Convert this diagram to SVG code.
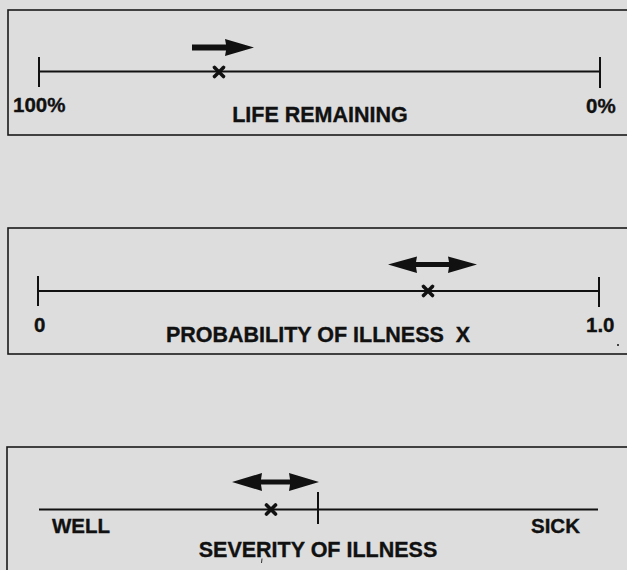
<svg xmlns="http://www.w3.org/2000/svg" width="627" height="570" viewBox="0 0 627 570">
<style>
.bg{fill:#dddddd}
.box{fill:none;stroke:#1a1a1a;stroke-width:1.6}
.axis{stroke:#111;stroke-width:2;fill:none}
.tick{stroke:#111;stroke-width:2;fill:none}
.xm{stroke:#111;stroke-width:3.6;stroke-linecap:round}
.arr{fill:#111}
text{font-family:"Liberation Sans",Arial,sans-serif;font-weight:bold;fill:#111;stroke:#111;stroke-width:0.35}
.lbl{font-size:20.5px}
.ttl{font-size:21.5px;text-anchor:middle}
</style>
<rect class="bg" x="0" y="0" width="627" height="570"/>

<g id="panel-life">
  <rect class="box" x="8" y="10" width="640" height="125"/>
  <line class="axis" x1="39" y1="71.5" x2="600" y2="71.5"/>
  <line class="tick" x1="39" y1="57" x2="39" y2="87"/>
  <line class="tick" x1="600" y1="57" x2="600" y2="88"/>
  <g transform="translate(219,72)"><line class="xm" x1="-4.5" y1="-4.5" x2="4.5" y2="4.5"/><line class="xm" x1="-4.5" y1="4.5" x2="4.5" y2="-4.5"/></g>
  <text class="lbl" x="13" y="112">100%</text>
  <text class="lbl" x="586" y="113">0%</text>
  <text class="ttl" x="320" y="122">LIFE REMAINING</text>
</g>

<g id="panel-probability">
  <rect class="box" x="8" y="228" width="640" height="126"/>
  <line class="axis" x1="38" y1="291" x2="599" y2="291"/>
  <line class="tick" x1="38" y1="276" x2="38" y2="306"/>
  <line class="tick" x1="599" y1="277" x2="599" y2="307"/>
  <g transform="translate(428,291)"><line class="xm" x1="-4.5" y1="-4.5" x2="4.5" y2="4.5"/><line class="xm" x1="-4.5" y1="4.5" x2="4.5" y2="-4.5"/></g>
  <text class="lbl" x="34" y="332">0</text>
  <text class="lbl" x="586" y="332">1.0</text>
  <text class="ttl" x="318" y="342" xml:space="preserve">PROBABILITY OF ILLNESS  X</text>
  <circle cx="618" cy="345" r="1" fill="#111"/>
</g>

<g id="panel-severity">
  <rect class="box" x="7" y="447" width="640" height="140"/>
  <line class="axis" x1="39" y1="509.5" x2="598" y2="509.5"/>
  <line class="tick" x1="318" y1="492" x2="318" y2="524"/>
  <g transform="translate(271,509.5)"><line class="xm" x1="-4.5" y1="-4.5" x2="4.5" y2="4.5"/><line class="xm" x1="-4.5" y1="4.5" x2="4.5" y2="-4.5"/></g>
  <text class="lbl" x="52" y="533">WELL</text>
  <text class="lbl" x="531" y="533">SICK</text>
  <text class="ttl" x="318" y="557">SEVERITY OF ILLNESS</text>
  <line x1="262" y1="558.5" x2="261.5" y2="563" stroke="#333" stroke-width="1"/>
</g>

<g id="connectors">
  <path class="arr" d="M192,44.5 L226,44.5 L225,39 L254,47.5 L225,56 L226,50.5 L192,50.5 Z"/>
  <path class="arr" d="M388,264.5 L417,256.5 L416,262 L449,262 L448,256.5 L477,264.5 L448,273 L449,267 L416,267 L417,273 Z"/>
  <path class="arr" d="M232,482 L262,473 L261,479.5 L290,479.5 L289,473 L319,482 L289,491 L290,484.5 L261,484.5 L262,491 Z"/>
</g>
</svg>
